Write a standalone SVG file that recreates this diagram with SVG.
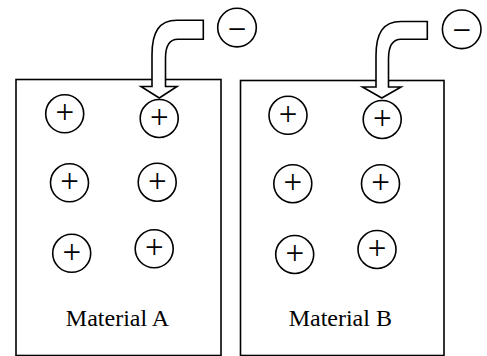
<svg xmlns="http://www.w3.org/2000/svg" width="487" height="356" viewBox="0 0 487 356">
  <style>
    .box { fill: #ffffff; stroke: #000000; stroke-width: 1.6; }
    .ion { fill: #ffffff; stroke: #000000; stroke-width: 1.6; }
    .sign { font-family: "Liberation Serif", "Times New Roman", serif; font-size: 33px; text-anchor: middle; fill: #000000; }
    .label { font-family: "Liberation Serif", "Times New Roman", serif; font-size: 24px; text-anchor: middle; fill: #000000; }
    .flow { fill: #ffffff; stroke: #000000; stroke-width: 1.6; stroke-linejoin: miter; }
  </style>
  <defs>
    <g id="pos">
      <circle class="ion" cx="0" cy="0" r="19"/>
      <text class="sign" x="0" y="9.5">+</text>
    </g>
    <g id="neg">
      <circle class="ion" cx="0" cy="0" r="19.3"/>
      <text class="sign" x="0" y="12">−</text>
    </g>
  </defs>

  <!-- material blocks -->
  <g id="material-a">
    <rect class="box" x="16" y="79.5" width="205" height="276"/>
    <text class="label" x="117.5" y="325.7">Material A</text>
  </g>
  <g id="material-b">
    <rect class="box" x="240.5" y="80.5" width="203.5" height="275"/>
    <text class="label" x="340.3" y="326">Material B</text>
  </g>

  <!-- positive ions in material A -->
  <g id="a-ion-1"><use href="#pos" x="64.7" y="113.8"/></g>
  <g id="a-ion-2"><use href="#pos" x="159.2" y="118.5"/></g>
  <g id="a-ion-3"><use href="#pos" x="69.5" y="182.8"/></g>
  <g id="a-ion-4"><use href="#pos" x="157.2" y="182.2"/></g>
  <g id="a-ion-5"><use href="#pos" x="71.7" y="253.3"/></g>
  <g id="a-ion-6"><use href="#pos" x="154.2" y="248.8"/></g>

  <!-- positive ions in material B -->
  <g id="b-ion-1"><use href="#pos" x="288" y="115.3"/></g>
  <g id="b-ion-2"><use href="#pos" x="382.2" y="119.5"/></g>
  <g id="b-ion-3"><use href="#pos" x="292.8" y="183.7"/></g>
  <g id="b-ion-4"><use href="#pos" x="380.5" y="183.7"/></g>
  <g id="b-ion-5"><use href="#pos" x="294.7" y="254.5"/></g>
  <g id="b-ion-6"><use href="#pos" x="377" y="249.5"/></g>

  <!-- incoming electrons -->
  <g id="electron-a"><use href="#neg" x="237" y="27.6"/></g>
  <g id="electron-b"><use href="#neg" x="461.7" y="29.3"/></g>

  <!-- bent block arrows carrying the electrons in -->
  <g id="connectors">
    <path class="flow" d="M 203.3 20.3 L 177 20.3 C 159 20.3 152 32 152 55 L 152 86.5 L 141 86.5 L 159.3 98 L 177 86.5 L 165.5 86.5 L 165.5 58 C 165.5 45 170 39.3 178 39.3 L 203.3 39.3 Z"/>
    <path class="flow" d="M 427.3 21.5 L 401 21.5 C 383 21.5 376 33 376 56 L 376 87 L 362.5 87 L 381.8 98 L 401 87 L 388.5 87 L 388.5 59 C 388.5 45 393 39.3 401 39.3 L 427.3 39.3 Z"/>
  </g>
</svg>
